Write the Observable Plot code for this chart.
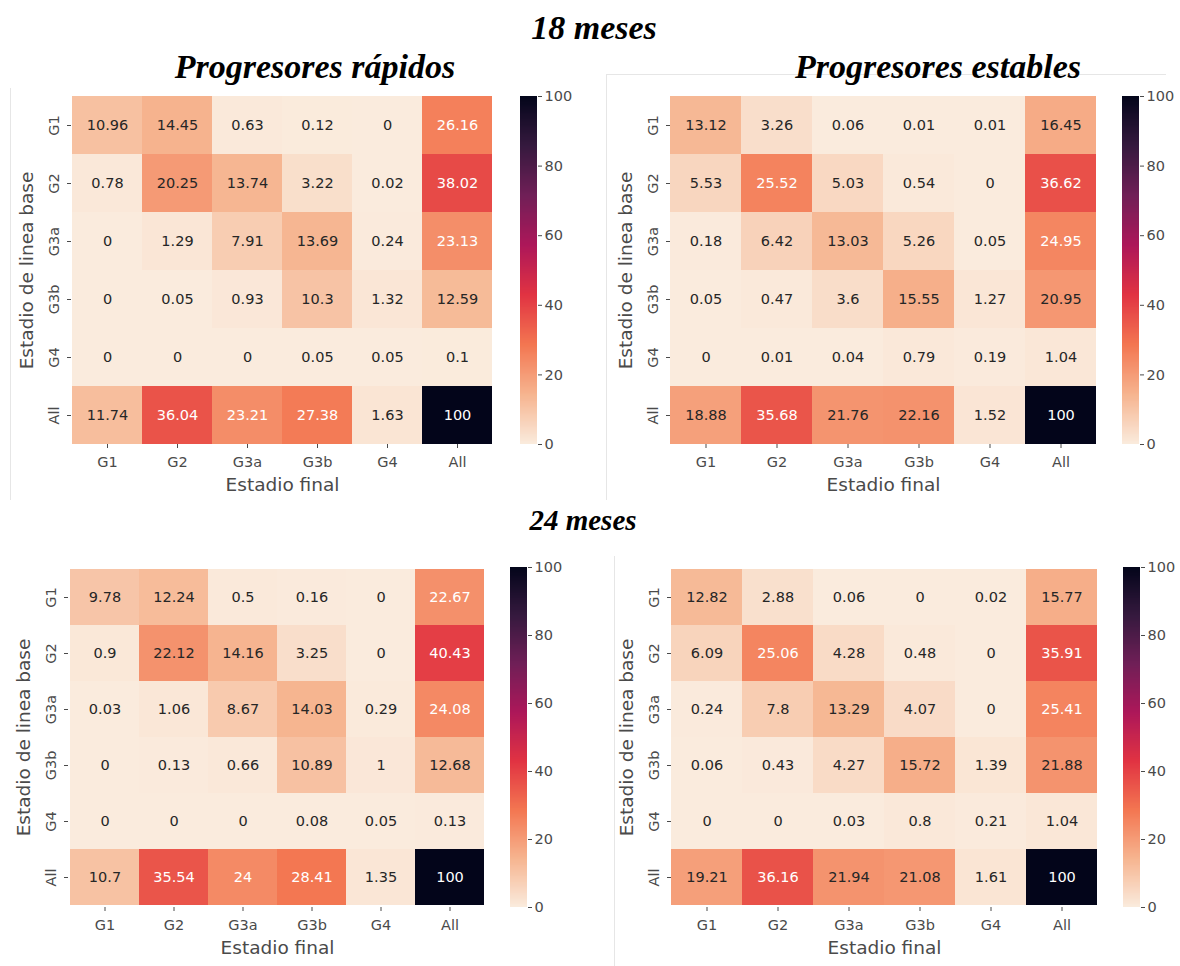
<!DOCTYPE html>
<html><head><meta charset="utf-8">
<script src="https://cdn.jsdelivr.net/npm/d3@7"></script>
<script src="https://cdn.jsdelivr.net/npm/@observablehq/plot@0.6"></script>
<style>
body{margin:0;background:#fff;}
#root{position:relative;width:1180px;height:966px;overflow:hidden;font-family:"DejaVu Sans",sans-serif;background:#fff;}
.title{position:absolute;font-family:"Liberation Serif","Times New Roman",serif;font-weight:bold;font-style:italic;color:#000;white-space:nowrap;line-height:1;transform:translateX(-50%);}
.panel{position:absolute;}
.panel svg{max-width:none !important;display:block;}
.rule{position:absolute;background:#e6e6e6;}
svg g[aria-label="x-axis label"] text, svg g[aria-label="y-axis label"] text{font-size:18.5px;}
</style></head><body><div id="root"></div>
<script>
// ---- data ----
const stages = ["G1","G2","G3a","G3b","G4","All"];
const colorTicks = [0,20,40,60,80,100];
const rapidos18 = [
  [10.96,14.45,0.63,0.12,0,26.16],
  [0.78,20.25,13.74,3.22,0.02,38.02],
  [0,1.29,7.91,13.69,0.24,23.13],
  [0,0.05,0.93,10.3,1.32,12.59],
  [0,0,0,0.05,0.05,0.1],
  [11.74,36.04,23.21,27.38,1.63,100]];
const estables18 = [
  [13.12,3.26,0.06,0.01,0.01,16.45],
  [5.53,25.52,5.03,0.54,0,36.62],
  [0.18,6.42,13.03,5.26,0.05,24.95],
  [0.05,0.47,3.6,15.55,1.27,20.95],
  [0,0.01,0.04,0.79,0.19,1.04],
  [18.88,35.68,21.76,22.16,1.52,100]];
const rapidos24 = [
  [9.78,12.24,0.5,0.16,0,22.67],
  [0.9,22.12,14.16,3.25,0,40.43],
  [0.03,1.06,8.67,14.03,0.29,24.08],
  [0,0.13,0.66,10.89,1,12.68],
  [0,0,0,0.08,0.05,0.13],
  [10.7,35.54,24,28.41,1.35,100]];
const estables24 = [
  [12.82,2.88,0.06,0,0.02,15.77],
  [6.09,25.06,4.28,0.48,0,35.91],
  [0.24,7.8,13.29,4.07,0,25.41],
  [0.06,0.43,4.27,15.72,1.39,21.88],
  [0,0,0.03,0.8,0.21,1.04],
  [19.21,36.16,21.94,21.08,1.61,100]];
const xLabel = "Estadio final";
const yLabel = "Estadio de linea base";

// rocket colormap (seaborn), reversed
const rocketStops = ["#03051a","#35193e","#701f57","#ad1759","#e13342","#f37651","#f6b48f","#faebdd"];
const rocket = d3.piecewise(d3.interpolateRgb, rocketStops);
const rocketR = t => rocket(1 - t);
const colorScale = {type: "linear", domain: [0, 100], interpolate: rocketR};

const root = document.getElementById("root");
function addDiv(cls, css, text) {
  const d = document.createElement("div");
  d.className = cls;
  Object.assign(d.style, css);
  if (text) d.textContent = text;
  root.appendChild(d);
  return d;
}

const mL = 70, mT = 8, mB = 62, mR = 4;
const baseStyle = {fontFamily: "DejaVu Sans", fontSize: "14.5px", color: "#4a4a4a", background: "transparent", overflow: "visible", maxWidth: "none"};

function heatmap(values, {left, top, width, height}) {
  const data = [];
  stages.forEach((r, i) => stages.forEach((c, j) => data.push({row: r, col: c, value: values[i][j]})));
  const W = width + mL + mR, H = height + mT + mB;
  const svg = Plot.plot({
    width: W, height: H,
    marginLeft: mL, marginTop: mT, marginBottom: mB, marginRight: mR,
    style: baseStyle,
    x: {domain: stages, padding: 0, axis: null},
    y: {domain: stages, padding: 0, axis: null},
    color: colorScale,
    marks: [
      Plot.cell(data, {x: "col", y: "row", fill: "value", inset: 0}),
      Plot.text(data, {x: "col", y: "row", text: d => String(d.value),
        fill: d => d.value > 22.4 ? "#ffffff" : "#262626", fontSize: 14.5}),
      Plot.axisX({anchor: "bottom", tickSize: 4, tickPadding: 8, label: xLabel, labelAnchor: "center", labelOffset: 46}),
      Plot.axisY({anchor: "left", tickSize: 4, tickPadding: 9, tickRotate: -90, label: yLabel, labelAnchor: "center", labelOffset: 52})
    ]
  });
  const wrap = addDiv("panel", {left: (left - mL) + "px", top: (top - mT) + "px", width: W + "px", height: H + "px"});
  wrap.appendChild(svg);
}

function colorbar({left, top, height}) {
  const step = 0.25;
  const steps = d3.range(0, 100, step);
  const W = 17 + 42, H = height + mT + mB;
  const svg = Plot.plot({
    width: W, height: H,
    marginLeft: 0, marginRight: 42, marginTop: mT, marginBottom: mB,
    style: baseStyle,
    y: {domain: [0, 100], axis: null},
    color: colorScale,
    marks: [
      Plot.rect(steps, {y1: d => d, y2: d => Math.min(100, d + step * 1.5), fill: d => d + step / 2, shapeRendering: "crispEdges"}),
      Plot.axisY({anchor: "right", ticks: colorTicks, tickSize: 4, tickPadding: 3, label: null})
    ]
  });
  const wrap = addDiv("panel", {left: left + "px", top: (top - mT) + "px", width: W + "px", height: H + "px"});
  wrap.appendChild(svg);
}

// faint frame lines of the original composite
addDiv("rule", {left: "10px", top: "88px", width: "1px", height: "412px"});
addDiv("rule", {left: "606px", top: "74px", width: "560px", height: "1px"});
addDiv("rule", {left: "606px", top: "74px", width: "1px", height: "426px"});
addDiv("rule", {left: "614px", top: "556px", width: "1px", height: "410px"});

// titles
addDiv("title", {left: "594px", top: "11px", fontSize: "34px"}, "18 meses");
addDiv("title", {left: "315px", top: "50px", fontSize: "34px"}, "Progresores rápidos");
addDiv("title", {left: "938px", top: "50px", fontSize: "34px"}, "Progresores estables");
addDiv("title", {left: "583px", top: "506px", fontSize: "29px"}, "24 meses");

// panels
heatmap(rapidos18, {left: 71, top: 96, width: 422, height: 348});
colorbar({left: 520, top: 96, height: 348});
heatmap(estables18, {left: 670, top: 96, width: 426, height: 348});
colorbar({left: 1122, top: 96, height: 348});
heatmap(rapidos24, {left: 68, top: 567, width: 418, height: 340});
colorbar({left: 510, top: 567, height: 340});
heatmap(estables24, {left: 671, top: 567, width: 426, height: 340});
colorbar({left: 1123, top: 567, height: 340});
</script></body></html>
